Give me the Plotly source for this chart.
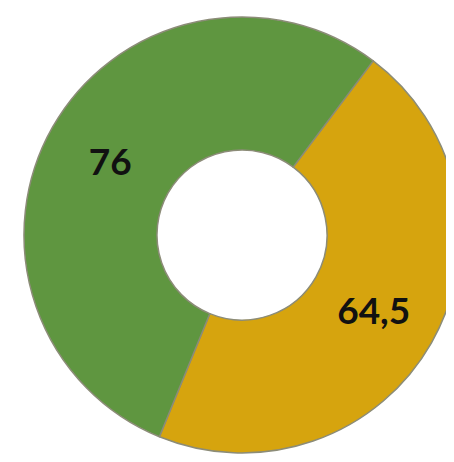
import plotly.graph_objects as go

labels_order = ["Yellow", "Green"]
vals = [64.5, 76]
colors = ["#d6a40e", "#5f9640"]

text_labels = [("%g" % v).replace(".", ",") for v in vals]

W, H = 454, 462
cx, cy, r = 234, 227, 218

fig = go.Figure(go.Pie(
    labels=labels_order,
    values=vals,
    text=text_labels,
    textinfo="text",
    textposition="inside",
    insidetextorientation="horizontal",
    hole=0.39,
    sort=False,
    direction="clockwise",
    rotation=37,
    marker=dict(colors=colors, line=dict(color="#8c8c78", width=1.5)),
    textfont=dict(family="Lato", size=37, color="#111111", weight="bold"),
    domain=dict(x=[(cx - r) / W, (cx + r) / W], y=[(H - cy - r) / H, (H - cy + r) / H]),
    showlegend=False,
    hoverinfo="skip",
))

fig.update_layout(
    width=W, height=H,
    margin=dict(l=0, r=0, t=0, b=0),
    paper_bgcolor="white",
    plot_bgcolor="white",
    uniformtext=dict(minsize=37, mode="show"),
)

fig.write_html("out.html")
